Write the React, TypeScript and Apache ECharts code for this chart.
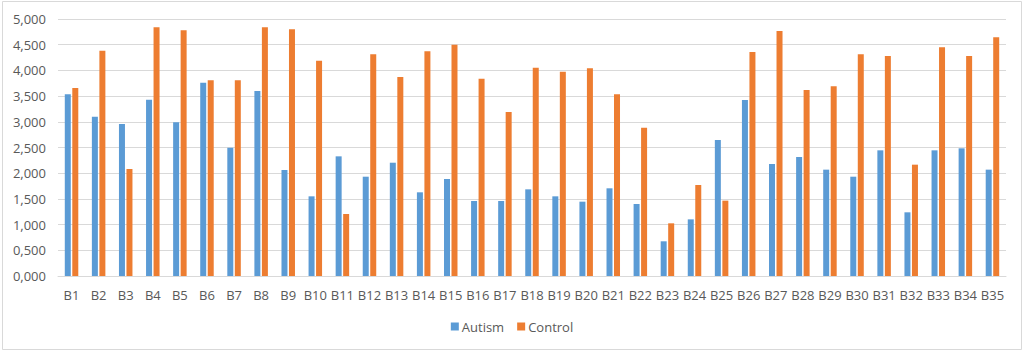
import React, { useEffect, useRef } from "react";
import * as echarts from "echarts";

const categories = [
  "B1","B2","B3","B4","B5","B6","B7","B8","B9","B10",
  "B11","B12","B13","B14","B15","B16","B17","B18","B19","B20",
  "B21","B22","B23","B24","B25","B26","B27","B28","B29","B30",
  "B31","B32","B33","B34","B35",
];

const autism = [
  3.534, 3.100, 2.957, 3.431, 2.990, 3.761, 2.497, 3.599, 2.062, 1.550,
  2.328, 1.932, 2.204, 1.628, 1.887, 1.459, 1.459, 1.686, 1.550, 1.446,
  1.706, 1.401, 0.675, 1.102, 2.646, 3.424, 2.179, 2.315, 2.069, 1.932,
  2.445, 1.239, 2.445, 2.484, 2.069,
];

const control = [
  3.658, 4.384, 2.082, 4.838, 4.780, 3.807, 3.807, 4.838, 4.799, 4.189,
  1.206, 4.313, 3.872, 4.371, 4.500, 3.839, 3.191, 4.053, 3.975, 4.040,
  3.534, 2.886, 1.025, 1.770, 1.466, 4.358, 4.767, 3.619, 3.690, 4.313,
  4.280, 2.166, 4.449, 4.280, 4.644,
];

const seriesNames = ["Autism", "Control"];
const yTicks = { min: 0, max: 5, interval: 0.5 };

export default function App() {
  const ref = useRef<HTMLDivElement>(null);
  useEffect(() => {
    if (!ref.current) return;
    const chart = echarts.init(ref.current, undefined, { renderer: "svg" });
    const font = "'Open Sans', sans-serif";
    chart.setOption({
      animation: false,
      backgroundColor: "#ffffff",
      graphic: [
        {
          type: "rect",
          shape: { x: 2.5, y: 1.5, width: 1019, height: 348 },
          style: { fill: "none", stroke: "#d9d9d9", lineWidth: 1 },
          silent: true,
        },
      ],
      grid: { left: 58, right: 18, top: 19, bottom: 76 },
      legend: {
        data: seriesNames,
        bottom: 14,
        left: "center",
        itemWidth: 8,
        itemHeight: 8,
        itemGap: 13,
        icon: "rect",
        textStyle: { color: "#595959", fontSize: 13, fontFamily: font, padding: [0, 0, 0, -2] },
      },
      xAxis: {
        type: "category",
        data: categories,
        axisLine: { show: true, lineStyle: { color: "#d9d9d9" } },
        axisTick: { show: false },
        axisLabel: {
          color: "#595959",
          fontSize: 13,
          fontFamily: font,
          margin: 12,
          interval: 0,
        },
      },
      yAxis: {
        type: "value",
        min: yTicks.min,
        max: yTicks.max,
        interval: yTicks.interval,
        axisLine: { show: false },
        axisTick: { show: false },
        splitLine: { lineStyle: { color: "#d9d9d9" } },
        axisLabel: {
          color: "#595959",
          fontSize: 13,
          fontFamily: font,
          margin: 12,
          formatter: (v: number) => v.toFixed(3).replace(".", ","),
        },
      },
      series: [
        {
          name: seriesNames[0],
          type: "bar",
          data: autism,
          barWidth: 6,
          barGap: "25%",
          itemStyle: { color: "#5b9bd5" },
        },
        {
          name: seriesNames[1],
          type: "bar",
          data: control,
          barWidth: 6,
          barGap: "25%",
          itemStyle: { color: "#ed7d31" },
        },
      ],
    });
    return () => chart.dispose();
  }, []);
  return (
    <div
      ref={ref}
      style={{ position: "fixed", left: 0, top: 0, width: 1024, height: 352 }}
    />
  );
}
